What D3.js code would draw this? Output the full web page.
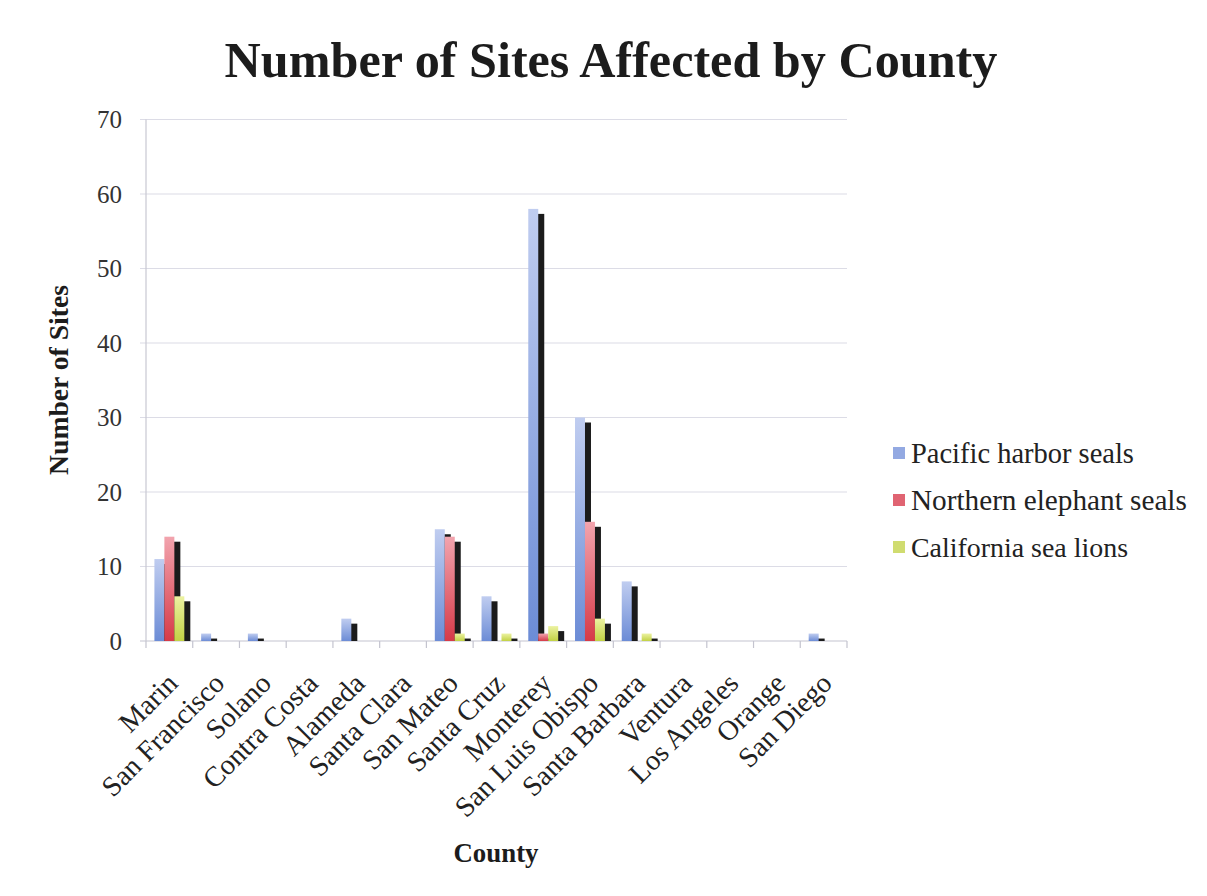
<!DOCTYPE html>
<html>
<head>
<meta charset="utf-8">
<script src="https://cdn.jsdelivr.net/npm/d3@7"></script>
<style>
  html, body { margin: 0; padding: 0; background: #ffffff; }
  svg { display: block; }
  text { font-family: "Liberation Serif", "Times New Roman", serif; fill: #222; }
</style>
</head>
<body>
<svg id="chart" width="1207" height="896"></svg>
<script>
// ---- data ----
const counties = ["Marin", "San Francisco", "Solano", "Contra Costa", "Alameda", "Santa Clara",
  "San Mateo", "Santa Cruz", "Monterey", "San Luis Obispo", "Santa Barbara", "Ventura",
  "Los Angeles", "Orange", "San Diego"];
const seriesNames = ["Pacific harbor seals", "Northern elephant seals", "California sea lions"];
const harborSeals   = [11, 1, 1, 0, 3, 0, 15, 6, 58, 30, 8, 0, 0, 0, 1];
const elephantSeals = [14, 0, 0, 0, 0, 0, 14, 0, 1, 16, 0, 0, 0, 0, 0];
const seaLions      = [6, 0, 0, 0, 0, 0, 1, 1, 2, 3, 1, 0, 0, 0, 0];
const yTicks = [0, 10, 20, 30, 40, 50, 60, 70];
const titleText = "Number of Sites Affected by County";
const yTitle = "Number of Sites";
const xTitle = "County";

const seriesValues = [harborSeals, elephantSeals, seaLions];
const gradStops = [["#c0cdf0", "#6c8cd6"], ["#f2a4ae", "#d63a48"], ["#ecf2a2", "#c2d244"]];
const legendFill = ["#93a9e2", "#e06472", "#d0dc70"];

const svg = d3.select("#chart");
const margin = { left: 146, right: 847, top: 119.5, bottom: 641 };

// gradients
const defs = svg.append("defs");
gradStops.forEach((g, i) => {
  const lg = defs.append("linearGradient").attr("id", "g" + i)
    .attr("x1", 0).attr("y1", 0).attr("x2", 0).attr("y2", 1);
  lg.append("stop").attr("offset", "0%").attr("stop-color", g[0]);
  lg.append("stop").attr("offset", "100%").attr("stop-color", g[1]);
});

const x0 = d3.scaleBand().domain(counties).range([margin.left, margin.right]).paddingInner(0).paddingOuter(0);
const bw = x0.bandwidth();
const x1 = d3.scaleBand().domain(d3.range(3)).range([bw * 0.18, bw * 0.82]).padding(0);
const y = d3.scaleLinear().domain([0, 70]).range([margin.bottom, margin.top]);

// gridlines
svg.append("g").selectAll("line").data(yTicks).join("line")
  .attr("x1", margin.left - 6).attr("x2", margin.right)
  .attr("y1", d => y(d)).attr("y2", d => y(d))
  .attr("stroke", d => d === 0 ? "#c4c4cf" : "#dcdce6").attr("stroke-width", 1.2);

// y axis line
svg.append("line").attr("x1", margin.left).attr("x2", margin.left)
  .attr("y1", y(70)).attr("y2", y(0)).attr("stroke", "#c8c8d2").attr("stroke-width", 1.2);

// x ticks at band boundaries
const boundaries = counties.map(c => x0(c)).concat([margin.right]);
svg.append("g").selectAll("line").data(boundaries).join("line")
  .attr("x1", d => d).attr("x2", d => d)
  .attr("y1", y(0)).attr("y2", y(0) + 7)
  .attr("stroke", "#c4c4cf").attr("stroke-width", 1.2);

// y tick labels
const yAxisG = svg.append("g");
yAxisG.selectAll("text").data(yTicks).join("text")
  .attr("x", 122).attr("y", d => y(d))
  .attr("dy", "0.35em").attr("text-anchor", "end")
  .style("font-size", "25px").style("fill", "#333")
  .text(d => d);

// bars: per series, shadows then bars
const shadowDx = 6, shadowDy = 5;
seriesValues.forEach((vals, s) => {
  const g = svg.append("g");
  const data = counties.map((c, i) => ({ c, v: vals[i] }));
  g.selectAll("rect.sh").data(data.filter(d => y(0) - y(d.v) > shadowDy)).join("rect")
    .attr("class", "sh")
    .attr("x", d => x0(d.c) + x1(s) + shadowDx)
    .attr("y", d => y(d.v) + shadowDy)
    .attr("width", x1.bandwidth())
    .attr("height", d => y(0) - y(d.v) - shadowDy)
    .attr("fill", "#1b1b1b");
  g.selectAll("rect.bar").data(data.filter(d => d.v > 0)).join("rect")
    .attr("class", "bar")
    .attr("x", d => x0(d.c) + x1(s))
    .attr("y", d => y(d.v))
    .attr("width", x1.bandwidth())
    .attr("height", d => y(0) - y(d.v))
    .attr("fill", "url(#g" + s + ")");
});

// x labels
const xl = svg.append("g").selectAll("text").data(counties).join("text")
  .attr("transform", d => `translate(${x0(d) + bw / 2 + 10},${y(0) + 44}) rotate(-45)`)
  .attr("text-anchor", "end")
  .style("font-size", "22px").style("fill", "#222")
  .text(d => d);

function fitWidth(sel, target) {
  const node = sel.node();
  const fs = parseFloat(sel.style("font-size"));
  const w = node.getComputedTextLength();
  sel.style("font-size", (fs * target / w).toFixed(2) + "px");
}

// fit label size using San Francisco
const sf = xl.filter(d => d === "San Francisco");
const baseFs = 22;
const sfw = sf.node().getComputedTextLength();
const labelFs = baseFs * 160 / sfw;
xl.style("font-size", labelFs.toFixed(2) + "px");

// title
const t = svg.append("text").attr("x", 611).attr("y", 77).attr("text-anchor", "middle")
  .style("font-size", "46px").style("font-weight", "bold").style("fill", "#1c1c1c").text(titleText);
fitWidth(t, 773);

// y title
const yt = svg.append("text").attr("transform", "translate(68,380) rotate(-90)")
  .attr("text-anchor", "middle").style("font-size", "24px").style("font-weight", "bold")
  .style("fill", "#1c1c1c").text(yTitle);
fitWidth(yt, 190);

// x title
const xt = svg.append("text").attr("x", 496).attr("y", 862).attr("text-anchor", "middle")
  .style("font-size", "24px").style("font-weight", "bold").style("fill", "#1c1c1c").text(xTitle);
fitWidth(xt, 85);

// legend
const legendWidths = [223, 276, 217];
const leg = svg.append("g");
seriesNames.forEach((n, i) => {
  const cy = 453 + i * 47;
  leg.append("rect").attr("x", 893).attr("y", cy - 6).attr("width", 12).attr("height", 12)
    .attr("fill", legendFill[i]);
  const lt = leg.append("text").attr("x", 911).attr("y", cy).attr("dy", "0.35em")
    .style("font-size", "24px").style("fill", "#222").text(n);
  fitWidth(lt, legendWidths[i]);
});
</script>
</body>
</html>
